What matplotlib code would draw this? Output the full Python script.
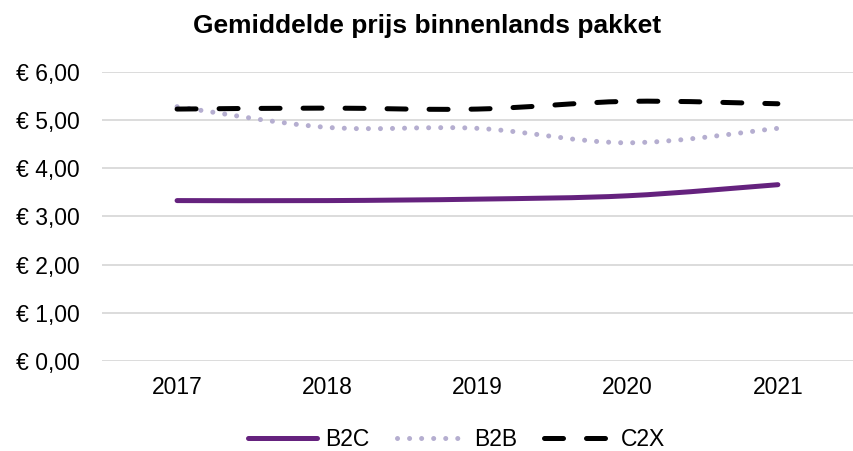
import numpy as np
import matplotlib
matplotlib.use("Agg")
import matplotlib.pyplot as plt
from matplotlib.path import Path
from matplotlib.patches import PathPatch
from matplotlib.lines import Line2D

plt.rcParams['font.family'] = ['Liberation Sans', 'DejaVu Sans']

years = ['2017', '2018', '2019', '2020', '2021']
b2c = [3.33, 3.33, 3.36, 3.43, 3.66]
b2b = [5.28, 4.85, 4.83, 4.53, 4.83]
c2x = [5.23, 5.25, 5.23, 5.39, 5.34]
yticks = [0, 1, 2, 3, 4, 5, 6]
ylabels = ['€ 0,00', '€ 1,00', '€ 2,00', '€ 3,00', '€ 4,00', '€ 5,00', '€ 6,00']


def smooth_path(ys):
    # Excel-style smoothed line: cubic bezier through each point
    pts = np.column_stack([np.arange(len(ys)), ys]).astype(float)
    verts = [pts[0]]
    codes = [Path.MOVETO]
    n = len(pts)
    for i in range(n - 1):
        p0 = pts[max(i - 1, 0)]
        p1 = pts[i]
        p2 = pts[i + 1]
        p3 = pts[min(i + 2, n - 1)]
        c1 = p1 + (p2 - p0) / 6
        c2 = p2 - (p3 - p1) / 6
        verts += [c1, c2, p2]
        codes += [Path.CURVE4] * 3
    return Path(verts, codes)


fig = plt.figure(figsize=(8.54, 4.51), dpi=100)
ax = fig.add_axes([0.1194, 0.1996, 0.8794, 0.6408])

styles = [
    ('B2C', b2c, dict(color='#65227e', lw=3.6, ls='-')),
    ('B2B', b2b, dict(color='#b5aed0', lw=3.6, ls=(0, (0.01, 2.4)))),
    ('C2X', c2x, dict(color='black', lw=3.6, ls=(0, (3.8, 4.6)))),
]

handles = []
for name, vals, st in styles:
    patch = PathPatch(smooth_path(vals), fill=False, edgecolor=st['color'],
                      linewidth=st['lw'], linestyle=st['ls'], capstyle='round',
                      zorder=3)
    ax.add_patch(patch)
    handles.append(Line2D([], [], color=st['color'], lw=st['lw'], ls=st['ls'],
                          dash_capstyle='round', solid_capstyle='round', label=name))

ax.set_xlim(-0.5, len(years) - 0.5)
ax.set_ylim(0, 6)
ax.set_xticks(range(len(years)))
ax.set_xticklabels(years)
ax.set_yticks(yticks)
ax.set_yticklabels(ylabels)
ax.tick_params(length=0, labelsize=16.5)
ax.tick_params(axis='x', pad=11)
ax.tick_params(axis='y', pad=16)
ax.grid(axis='y', color='#d9d9d9', lw=1.3)
ax.set_axisbelow(True)
for s in ax.spines.values():
    s.set_visible(False)

fig.suptitle('Gemiddelde prijs binnenlands pakket', fontsize=19,
             fontweight='bold', y=0.97)

fig.legend(handles=handles, loc='lower center', ncol=3, frameon=False,
           fontsize=16.5, handlelength=3.0, columnspacing=1.2, handletextpad=0.35,
           bbox_to_anchor=(0.535, -0.045))

fig.savefig('out.png', dpi=100)
